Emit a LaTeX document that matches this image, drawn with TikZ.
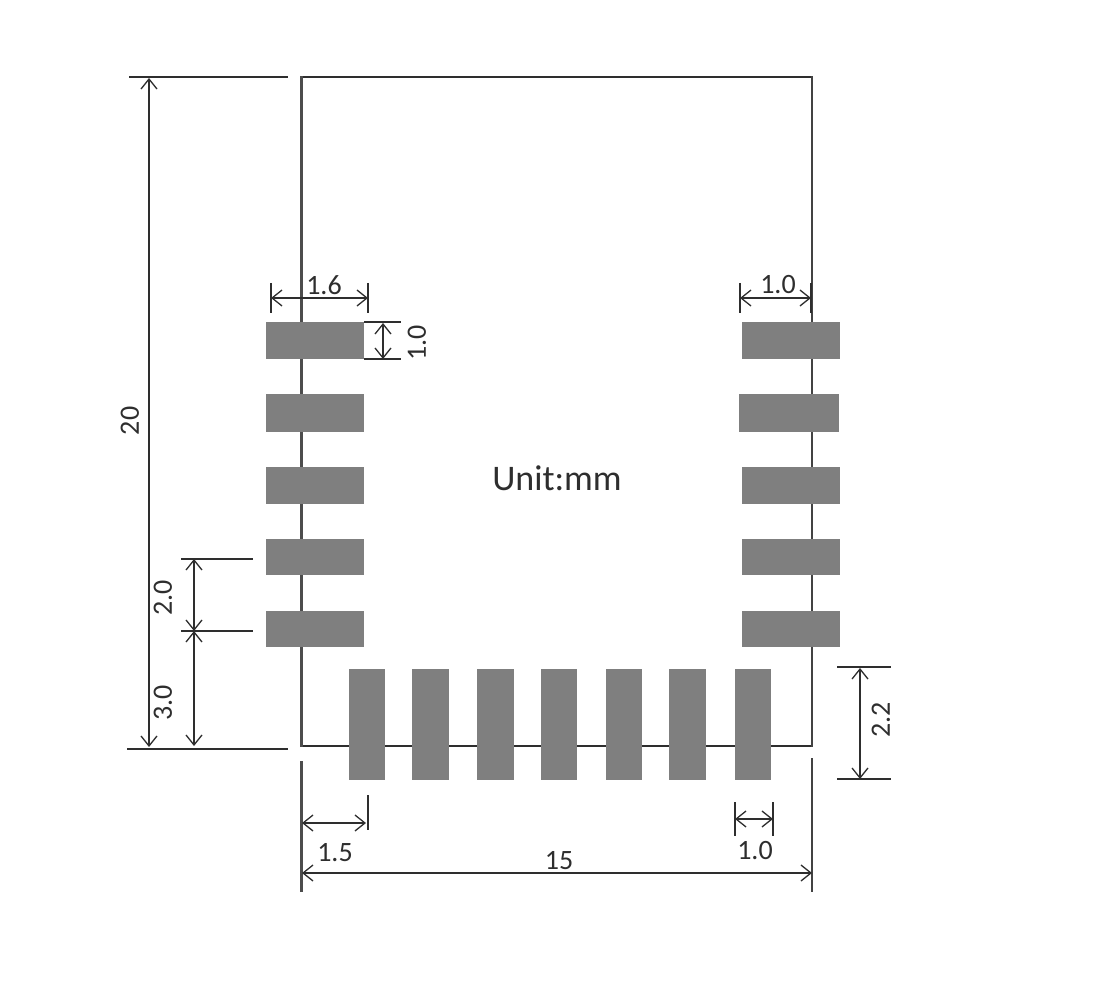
\documentclass[tikz,border=0pt]{standalone}
\usepackage{fontspec}
\setmainfont{Carlito}
\usetikzlibrary{arrows.meta}
\definecolor{padgray}{HTML}{7F7F7F}
\definecolor{ink}{HTML}{2E2E2E}
\tikzset{
  pad/.style={fill=padgray,draw=none},
  thickedge/.style={draw=ink!85!white,line width=2.2pt},
  midedge/.style={draw=ink!90!white,line width=1.7pt},
  thinedge/.style={draw=ink,line width=1.5pt},
  ext/.style={draw=ink,line width=1.3pt},
  dim/.style={draw=ink,line width=1.2pt,{Straight Barb[length=10pt,width=16pt,line width=1.3pt]}-{Straight Barb[length=10pt,width=16pt,line width=1.3pt]}},
  lab/.style={font=\fontsize{28pt}{30pt}\selectfont,inner sep=0pt,text=ink},
}
\begin{document}
\begin{tikzpicture}[x=1pt,y=-1pt]
\useasboundingbox (0,0) rectangle (1109,1000);
% body outline
\draw[thinedge] (302,77) -- (812,77);
\draw[thinedge] (302,746) -- (812,746);
\draw[thickedge] (301.5,76.5) -- (301.5,747);
\draw[midedge] (812,76.5) -- (812,747);
% left pads
\foreach \y/\b in {322/359,394/432,467/504,539/575,611/647}
  \fill[pad] (266,\y) rectangle (364,\b);
% right pads
\fill[pad] (742,322) rectangle (840,359);
\fill[pad] (739,394) rectangle (839,432);
\fill[pad] (742,467) rectangle (840,504);
\fill[pad] (742,539) rectangle (840,575);
\fill[pad] (742,611) rectangle (840,647);
% bottom pads
\foreach \x/\r in {349/385,412/449,477/514,541/577,606/642,669/706,735/771}
  \fill[pad] (\x,668.5) rectangle (\r,780);
% named points
\coordinate (tA) at (149,78);
\coordinate (tB) at (149,747);
\coordinate (a16l) at (271,298);
\coordinate (a16r) at (368,298);
\coordinate (a10l) at (740,298);
\coordinate (a10r) at (811,298);
\coordinate (v10t) at (383,323);
\coordinate (v10b) at (383,359);
\coordinate (v20t) at (194,559);
\coordinate (v20b) at (194,631);
\coordinate (v30b) at (194,746);
\coordinate (v22t) at (860,668);
\coordinate (v22b) at (860,779);
\coordinate (h15l) at (302,823);
\coordinate (h15r) at (366,823);
\coordinate (h10l) at (735,819);
\coordinate (h10r) at (773,819);
\coordinate (w15l) at (302,873);
\coordinate (w15r) at (812,873);
% extension lines
\draw[ext] (129,77) -- (288,77);
\draw[ext] (127,749) -- (288,749);
\draw[ext] (271,283) -- (271,313);
\draw[ext] (368,283) -- (368,313);
\draw[ext] (740,283) -- (740,313);
\draw[ext] (811,283) -- (811,313);
\draw[ext] (364,322) -- (401,322);
\draw[ext] (364,359) -- (401,359);
\draw[ext] (181,559) -- (253,559);
\draw[ext] (181,631) -- (253,631);
\draw[ext] (837,667) -- (891,667);
\draw[ext] (837,779) -- (891,779);
\draw[thickedge] (301.5,761) -- (301.5,892);
\draw[midedge] (812,758) -- (812,892);
\draw[ext] (368,795) -- (368,830);
\draw[ext] (735,802) -- (735,836);
\draw[ext] (773,802) -- (773,836);
% dimension arrows
\draw[dim] (tA) -- (tB);
\draw[dim] (a16l) -- (a16r);
\draw[dim] (a10l) -- (a10r);
\draw[dim] (v10t) -- (v10b);
\draw[dim] (v20t) -- (v20b);
\draw[dim] (v20b) -- (v30b);
\draw[dim] (v22t) -- (v22b);
\draw[dim] (h15l) -- (h15r);
\draw[dim] (h10l) -- (h10r);
\draw[dim] (w15l) -- (w15r);
% labels
\node[lab,rotate=90] (l20) at (130,421) {20};
\node[lab] (l16) at (324,285) {1.6};
\node[lab] (l10a) at (778,285) {1.0};
\node[lab,rotate=90] (l10b) at (417,343) {1.0};
\node[lab,rotate=90] (l20b) at (163,598) {2.0};
\node[lab,rotate=90] (l30) at (163,703) {3.0};
\node[lab,rotate=90] (l22) at (881,720) {2.2};
\node[lab] (l15a) at (335,853) {1.5};
\node[lab] (l10c) at (755,851) {1.0};
\node[lab] (l15) at (559,861) {15};
\node[lab,font=\fontsize{36pt}{38pt}\selectfont] (unit) at (557,478) {Unit:mm};
\end{tikzpicture}
\end{document}
